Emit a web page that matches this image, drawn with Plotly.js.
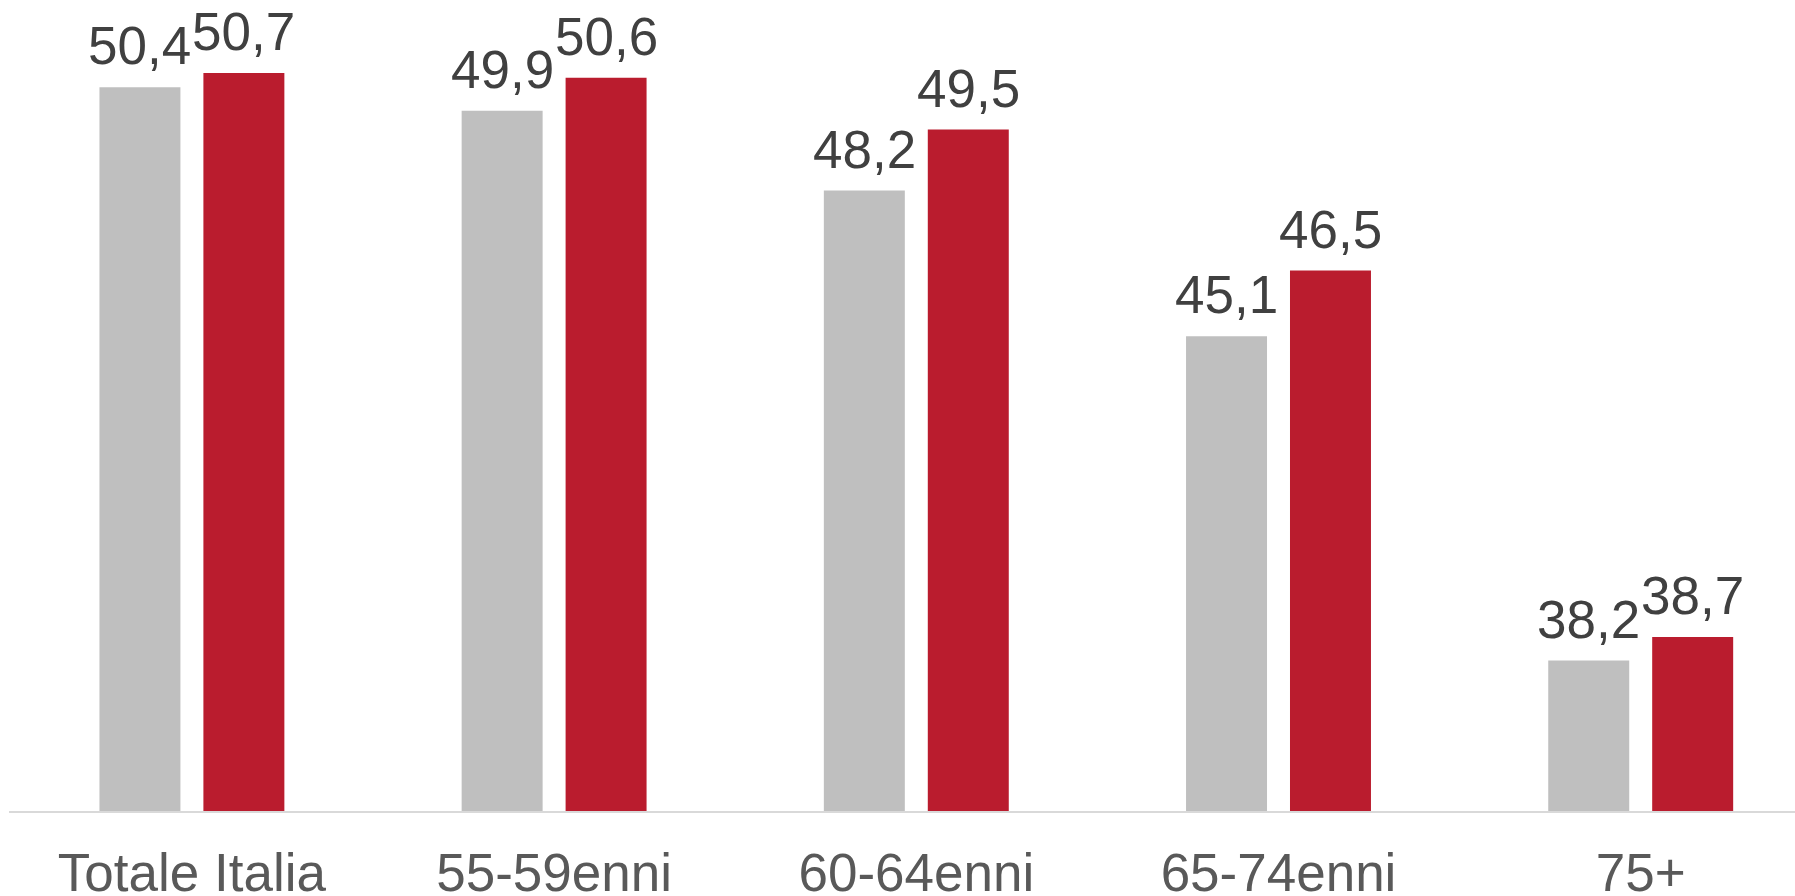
<!DOCTYPE html>
<html>
<head>
<meta charset="utf-8">
<script src="https://cdn.plot.ly/plotly-3.0.1.min.js"></script>
<style>
html,body{margin:0;padding:0;background:#fff;}
#chart{width:1795px;height:896px;}
</style>
</head>
<body>
<div id="chart"></div>
<script>
var categories = ['Totale Italia', '55-59enni', '60-64enni', '65-74enni', '75+'];
var seriesGray = [50.4, 49.9, 48.2, 45.1, 38.2];
var seriesRed = [50.7, 50.6, 49.5, 46.5, 38.7];

var labelFont = {family: 'Liberation Sans, Arial, sans-serif', size: 53, color: '#404040'};

function fmt(v) { return v.toFixed(1).replace('.', ','); }

var traces = [
  {
    type: 'bar', x: categories, y: seriesGray, name: 'A',
    marker: {color: '#BFBFBF'}, hoverinfo: 'skip'
  },
  {
    type: 'bar', x: categories, y: seriesRed, name: 'B',
    marker: {color: '#BA1C2E'}, hoverinfo: 'skip'
  }
];

var layout = {
  width: 1795, height: 896,
  margin: {l: 9, r: 0, t: 12, b: 85},
  paper_bgcolor: '#ffffff', plot_bgcolor: '#ffffff',
  showlegend: false,
  barmode: 'group',
  bargap: 0.426,
  bargroupgap: 0.221,
  xaxis: {
    type: 'category',
    range: [-0.505, 4.426],
    showline: true, linecolor: '#d9d9d9', linewidth: 1.5,
    showgrid: false, zeroline: false, ticks: '',
    ticklabelstandoff: 15,
    tickfont: {family: 'Liberation Sans, Arial, sans-serif', size: 53, color: '#595959'},
    fixedrange: true
  },
  yaxis: {
    range: [35, 52],
    visible: false, showgrid: false, zeroline: false, fixedrange: true
  }
};

var gd = document.getElementById('chart');
Plotly.newPlot(gd, traces, layout, {displayModeBar: false, staticPlot: true}).then(function () {
  var xa = gd._fullLayout.xaxis;
  var pxPerUnit = xa._length / (xa.range[1] - xa.range[0]);
  var off = (1 - layout.bargap) / 4 * pxPerUnit;
  var anns = [];
  [seriesGray, seriesRed].forEach(function (vals, s) {
    vals.forEach(function (v, i) {
      anns.push({
        x: categories[i], y: v, xref: 'x', yref: 'y',
        text: fmt(v), showarrow: false,
        xshift: s === 0 ? -off : off, yshift: 10,
        xanchor: 'center', yanchor: 'bottom',
        font: labelFont
      });
    });
  });
  return Plotly.relayout(gd, {annotations: anns});
});
</script>
</body>
</html>
